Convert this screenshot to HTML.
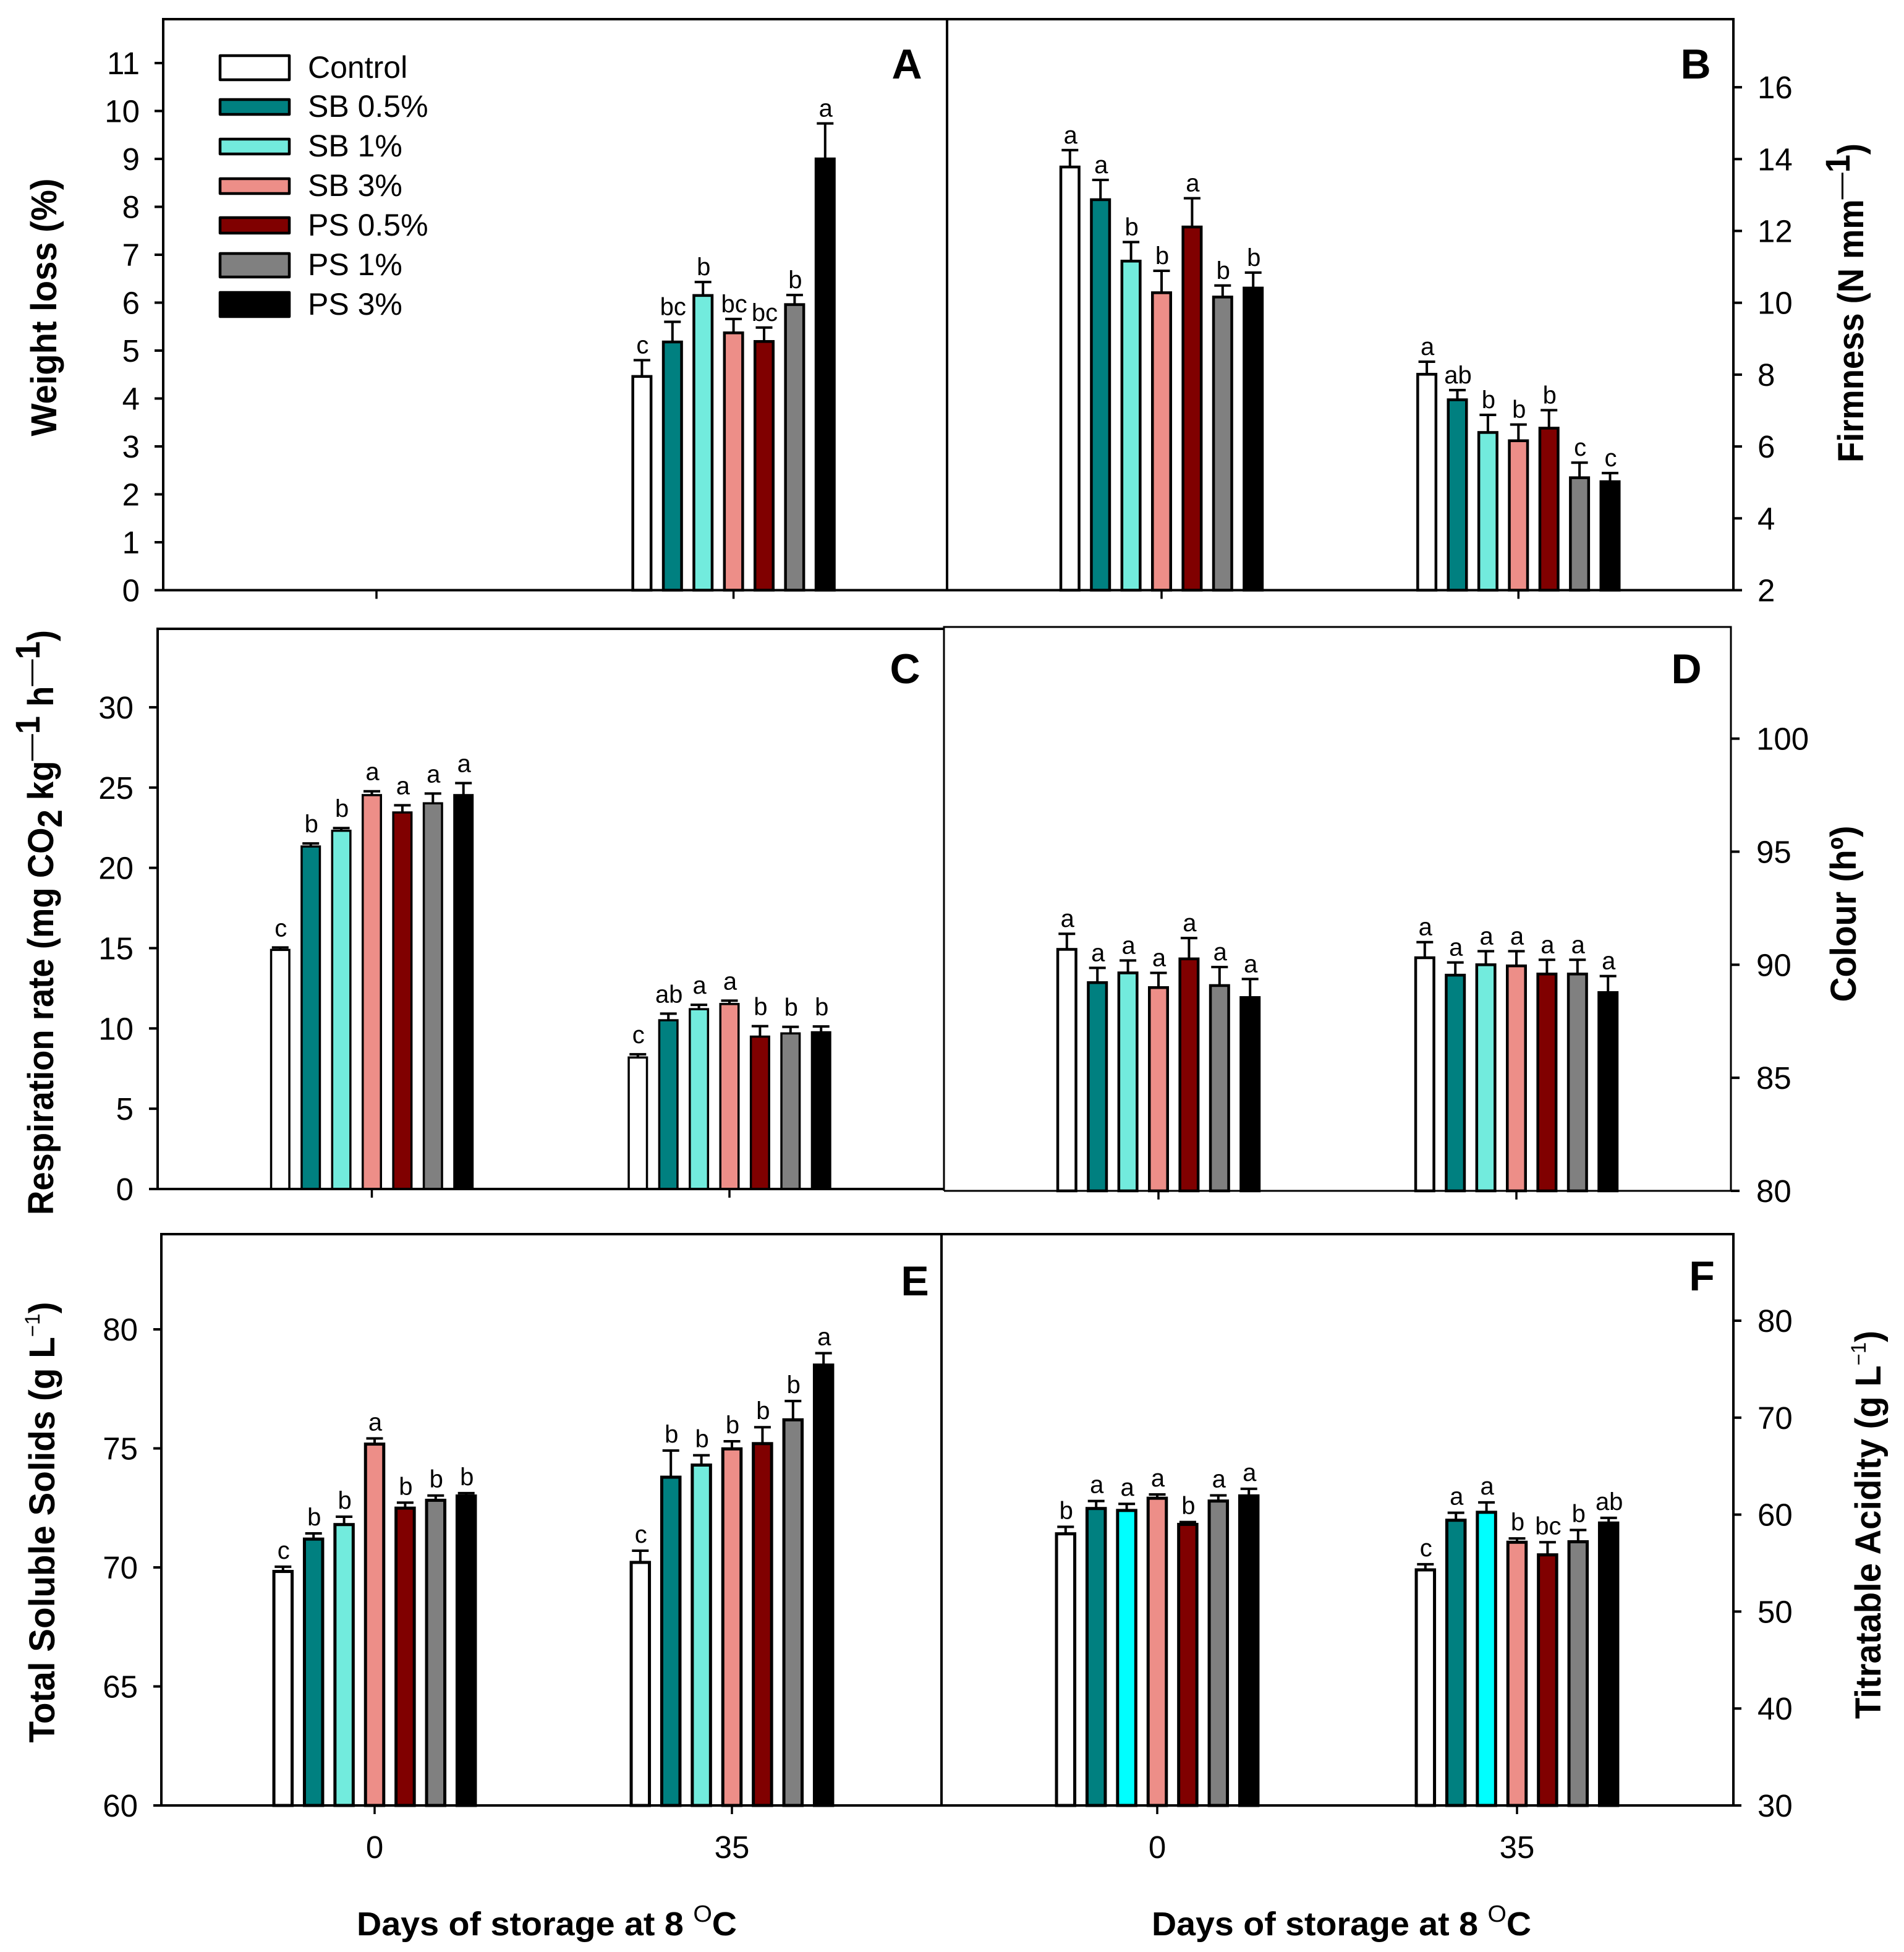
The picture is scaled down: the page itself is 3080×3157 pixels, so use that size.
<!DOCTYPE html>
<html lang="en">
<head>
<meta charset="utf-8">
<title>Six-panel quality parameters chart</title>
<style>
html,body{margin:0;padding:0;background:#fff;}
svg{display:block;font-family:"Liberation Sans",Arial,sans-serif;fill:#000;}
.tick-label{font-size:51px;}
.letter{font-size:40px;text-anchor:middle;}
.legend-text{font-size:50px;}
.panel-letter{font-size:68px;font-weight:700;text-anchor:middle;}
.y-title{font-size:58px;font-weight:700;text-anchor:middle;}
.x-title{font-size:54px;font-weight:700;}
.frame{stroke:#000;stroke-width:4;fill:none;}
.frame-thin{stroke:#000;stroke-width:3;fill:none;}
</style>
</head>
<body>
<svg id="chart" xmlns="http://www.w3.org/2000/svg" width="3080" height="3157" viewBox="0 0 3080 3157">
  <rect x="0" y="0" width="3080" height="3157" fill="#fff"/>

  <g id="panel-a"></g>
  <g id="panel-b"></g>
  <g id="panel-c"></g>
  <g id="panel-d"></g>
  <g id="panel-e"></g>
  <g id="panel-f"></g>

  <g>
    <path class="frame" d="M264 954.5V31H2804V954.5M1532 31V954.5M250 954.5H2818"/>
    <path class="frame" d="M255 1923V1017H1527M241 1923H1527"/>
    <path class="frame-thin" d="M1527 1926V1014H2800V1926M1527 1926H2814"/>
    <path class="frame" d="M261 2920V1996H2804V2920M1523 1996V2920M248 2920H2817"/>
  </g>

  <g stroke-width="4.5" stroke="#000" stroke-linejoin="round">
    <g><rect x="356" y="90" width="112" height="39" fill="#fff"/><text class="legend-text" stroke="none" x="498" y="126">Control</text></g>
    <g><rect x="356" y="161" width="112" height="24" fill="#008080"/><text class="legend-text" stroke="none" x="498" y="189">SB 0.5%</text></g>
    <g><rect x="356" y="225" width="112" height="24" fill="#72EBDD"/><text class="legend-text" stroke="none" x="498" y="253">SB 1%</text></g>
    <g><rect x="356" y="289" width="112" height="24" fill="#ED8E88"/><text class="legend-text" stroke="none" x="498" y="317">SB 3%</text></g>
    <g><rect x="356" y="352" width="112" height="25" fill="#800000"/><text class="legend-text" stroke="none" x="498" y="381">PS 0.5%</text></g>
    <g><rect x="356" y="410" width="112" height="38" fill="#808080"/><text class="legend-text" stroke="none" x="498" y="445">PS 1%</text></g>
    <g><rect x="356" y="473" width="112" height="39" fill="#000"/><text class="legend-text" stroke="none" x="498" y="509">PS 3%</text></g>
  </g>

  <g>
    <text class="panel-letter" x="1467" y="127">A</text>
    <text class="panel-letter" x="2743" y="127">B</text>
    <text class="panel-letter" x="1464" y="1105">C</text>
    <text class="panel-letter" x="2728" y="1105">D</text>
    <text class="panel-letter" x="1480" y="2095">E</text>
    <text class="panel-letter" x="2753" y="2087">F</text>
  </g>

  <g>
    <text class="y-title" transform="translate(91,497) rotate(-90)" textLength="417" lengthAdjust="spacingAndGlyphs">Weight loss (%)</text>
    <text class="y-title" transform="translate(3014,490) rotate(-90)" textLength="516" lengthAdjust="spacingAndGlyphs">Firmness (N mm<tspan dy="-22" font-size="46" font-weight="400">—</tspan><tspan font-size="56">1</tspan><tspan dy="22">)</tspan></text>
    <text class="y-title" transform="translate(86,1492) rotate(-90)" textLength="946" lengthAdjust="spacingAndGlyphs">Respiration rate (mg CO<tspan dy="14" font-size="56">2</tspan><tspan dy="-14"> kg</tspan><tspan dy="-22" font-size="46" font-weight="400">—</tspan><tspan font-size="56">1</tspan><tspan dy="22"> h</tspan><tspan dy="-22" font-size="46" font-weight="400">—</tspan><tspan font-size="56">1</tspan><tspan dy="22">)</tspan></text>
    <text class="y-title" transform="translate(3002,1478) rotate(-90)" textLength="285" lengthAdjust="spacingAndGlyphs">Colour (hº)</text>
    <text class="y-title" transform="translate(88,2462) rotate(-90)" textLength="713" lengthAdjust="spacingAndGlyphs">Total Soluble Solids (g L<tspan dy="-24" font-size="34" font-weight="400">−1</tspan><tspan dy="24">)</tspan></text>
    <text class="y-title" transform="translate(3042,2466) rotate(-90)" textLength="628" lengthAdjust="spacingAndGlyphs">Titratable Acidity (g L<tspan dy="-24" font-size="34" font-weight="400">−1</tspan><tspan dy="24">)</tspan></text>
    <text class="x-title" x="577" y="3130" textLength="615" lengthAdjust="spacingAndGlyphs">Days of storage at 8 <tspan dy="-22" font-size="38" font-weight="400">O</tspan><tspan dy="22">C</tspan></text>
    <text class="x-title" x="1863" y="3130" textLength="614" lengthAdjust="spacingAndGlyphs">Days of storage at 8 <tspan dy="-22" font-size="38" font-weight="400">O</tspan><tspan dy="22">C</tspan></text>
  </g>
</svg>

<script>
const categories = ['0', '35'];
const seriesNames = ['control', 'sb-0-5', 'sb-1', 'sb-3', 'ps-0-5', 'ps-1', 'ps-3'];

const aMeans = [
  [null, null, null, null, null, null, null],
  [4.46, 5.18, 6.15, 5.37, 5.19, 5.96, 9.0]
];
const aErrors = [
  [null, null, null, null, null, null, null],
  [0.34, 0.42, 0.28, 0.29, 0.29, 0.2, 0.74]
];
const aLetters = [
  ['', '', '', '', '', '', ''],
  ['c', 'bc', 'b', 'bc', 'bc', 'b', 'a']
];
const aTicks = [0, 1, 2, 3, 4, 5, 6, 7, 8, 9, 10, 11];

const bMeans = [
  [13.78, 12.87, 11.16, 10.28, 12.11, 10.16, 10.41],
  [8.01, 7.3, 6.39, 6.16, 6.51, 5.13, 5.02]
];
const bErrors = [
  [0.47, 0.55, 0.53, 0.61, 0.8, 0.32, 0.43],
  [0.35, 0.27, 0.49, 0.45, 0.5, 0.42, 0.24]
];
const bLetters = [
  ['a', 'a', 'b', 'b', 'a', 'b', 'b'],
  ['a', 'ab', 'b', 'b', 'b', 'c', 'c']
];
const bTicks = [2, 4, 6, 8, 10, 12, 14, 16];

const cMeans = [
  [14.89, 21.33, 22.31, 24.53, 23.45, 24.02, 24.53],
  [8.19, 10.51, 11.2, 11.52, 9.49, 9.69, 9.76]
];
const cErrors = [
  [0.15, 0.19, 0.17, 0.24, 0.45, 0.61, 0.75],
  [0.2, 0.41, 0.27, 0.21, 0.65, 0.41, 0.36]
];
const cLetters = [
  ['c', 'b', 'b', 'a', 'a', 'a', 'a'],
  ['c', 'ab', 'a', 'a', 'b', 'b', 'b']
];
const cTicks = [0, 5, 10, 15, 20, 25, 30];

const dMeans = [
  [90.68, 89.21, 89.64, 88.99, 90.26, 89.08, 88.55],
  [90.31, 89.54, 90, 89.95, 89.59, 89.59, 88.77]
];
const dErrors = [
  [0.69, 0.65, 0.55, 0.65, 0.92, 0.82, 0.82],
  [0.69, 0.56, 0.6, 0.65, 0.63, 0.63, 0.73]
];
const dLetters = [
  ['a', 'a', 'a', 'a', 'a', 'a', 'a'],
  ['a', 'a', 'a', 'a', 'a', 'a', 'a']
];
const dTicks = [80, 85, 90, 95, 100];

const eMeans = [
  [69.83, 71.19, 71.8, 75.18, 72.49, 72.82, 73],
  [70.21, 73.79, 74.3, 74.98, 75.2, 76.2, 78.5]
];
const eErrors = [
  [0.2, 0.24, 0.33, 0.24, 0.23, 0.2, 0.12],
  [0.49, 1.12, 0.41, 0.32, 0.69, 0.79, 0.5]
];
const eLetters = [
  ['c', 'b', 'b', 'a', 'b', 'b', 'b'],
  ['c', 'b', 'b', 'b', 'b', 'b', 'a']
];
const eTicks = [60, 65, 70, 75, 80];

const fMeans = [
  [58.02, 60.63, 60.43, 61.69, 58.99, 61.4, 61.93],
  [54.3, 59.42, 60.24, 57.15, 55.85, 57.2, 59.13]
];
const fErrors = [
  [0.72, 0.77, 0.68, 0.39, 0.24, 0.58, 0.73],
  [0.58, 0.77, 1.02, 0.39, 1.3, 1.21, 0.53]
];
const fLetters = [
  ['b', 'a', 'a', 'a', 'b', 'a', 'a'],
  ['c', 'a', 'a', 'b', 'bc', 'b', 'ab']
];
const fTicks = [30, 40, 50, 60, 70, 80];

const baseColors = ['#FFFFFF', '#008080', '#72EBDD', '#ED8E88', '#800000', '#808080', '#000000'];
const cyanColors = ['#FFFFFF', '#008080', '#00FFFF', '#ED8E88', '#800000', '#808080', '#000000'];

const panels = [
  { id: 'panel-a', means: aMeans, errors: aErrors, letters: aLetters, ticks: aTicks, colors: baseColors, min: 0, base: 954.5, unit: 77.5, groups: [609, 1186.6], spineX: 264, tickX: 250, labelX: 226, anchor: 'end', showCats: false, barStroke: 4.5, letterGap: 11 },
  { id: 'panel-b', means: bMeans, errors: bErrors, letters: bLetters, ticks: bTicks, colors: baseColors, min: 2, base: 954.5, unit: 58.1, groups: [1879, 2456.3], spineX: 2804, tickX: 2818, labelX: 2843, anchor: 'start', showCats: false, barStroke: 4.5, letterGap: 11 },
  { id: 'panel-c', means: cMeans, errors: cErrors, letters: cLetters, ticks: cTicks, colors: baseColors, min: 0, base: 1923, unit: 25.97, groups: [601.5, 1180], spineX: 255, tickX: 241, labelX: 216, anchor: 'end', showCats: false, barStroke: 3.5, letterGap: 18 },
  { id: 'panel-d', means: dMeans, errors: dErrors, letters: dLetters, ticks: dTicks, colors: baseColors, min: 80, base: 1926, unit: 36.57, groups: [1874, 2453], spineX: 2800, tickX: 2814, labelX: 2841, anchor: 'start', showCats: false, barStroke: 4.5, letterGap: 11 },
  { id: 'panel-e', means: eMeans, errors: eErrors, letters: eLetters, ticks: eTicks, colors: baseColors, min: 60, base: 2920, unit: 38.5, groups: [606, 1184], spineX: 261, tickX: 248, labelX: 223, anchor: 'end', showCats: true, barStroke: 5, letterGap: 13 },
  { id: 'panel-f', means: fMeans, errors: fErrors, letters: fLetters, ticks: fTicks, colors: cyanColors, min: 30, base: 2920, unit: 15.68, groups: [1872, 2454], spineX: 2804, tickX: 2817, labelX: 2843, anchor: 'start', showCats: true, barStroke: 5, letterGap: 13 }
];

const SVG_NS = 'http://www.w3.org/2000/svg';
const BAR_PITCH = 49.4;
const BAR_WIDTH = 29.5;
const CAP_HALF = 13.5;

function make(tag, props, parent) {
  const el = document.createElementNS(SVG_NS, tag);
  Object.keys(props).forEach(function (k) { el.setAttribute(k, props[k]); });
  parent.appendChild(el);
  return el;
}

function yScale(p, value) {
  return p.base - (value - p.min) * p.unit;
}

function xScale(p, groupIndex, seriesIndex) {
  return p.groups[groupIndex] + (seriesIndex - 3) * BAR_PITCH;
}

panels.forEach(function (p) {
  const root = document.getElementById(p.id);

  p.means.forEach(function (groupValues, g) {
    groupValues.forEach(function (value, s) {
      if (value === null) return;
      const cx = xScale(p, g, s);
      const top = yScale(p, value);
      const capY = yScale(p, value + p.errors[g][s]);

      const stem = make('line', { x1: cx, x2: cx, y1: top, y2: capY, stroke: '#000', 'stroke-width': 4 }, root);
      
      

      const cap = make('line', { x1: cx - CAP_HALF, x2: cx + CAP_HALF, y1: capY, y2: capY, stroke: '#000', 'stroke-width': 4 }, root);
      
      

      const bar = make('rect', { x: cx - BAR_WIDTH / 2, y: top, width: BAR_WIDTH, height: p.base - top, fill: p.colors[s], stroke: '#000', 'stroke-width': p.barStroke }, root);
      
      

      const letter = make('text', { x: cx + 1, y: capY - p.letterGap, class: 'letter' }, root);
      
      
      letter.textContent = p.letters[g][s];
    });
  });

  p.ticks.forEach(function (t) {
    const y = yScale(p, t);
    const tick = make('line', { x1: p.spineX, x2: p.tickX, y1: y, y2: y, stroke: '#000', 'stroke-width': 4 }, root);
    
    

    const label = make('text', { x: p.labelX, y: y + 18, class: 'tick-label', 'text-anchor': p.anchor }, root);
    
    
    label.textContent = String(t);
  });

  categories.forEach(function (cat, g) {
    const x = p.groups[g];
    const tick = make('line', { x1: x, x2: x, y1: p.base, y2: p.base + 14, stroke: '#000', 'stroke-width': 3.5 }, root);
    
    

    if (p.showCats) {
      const label = make('text', { x: x, y: 3005, class: 'tick-label', 'text-anchor': 'middle' }, root);
      
      
      label.textContent = cat;
    }
  });
});
</script>
</body>
</html>
